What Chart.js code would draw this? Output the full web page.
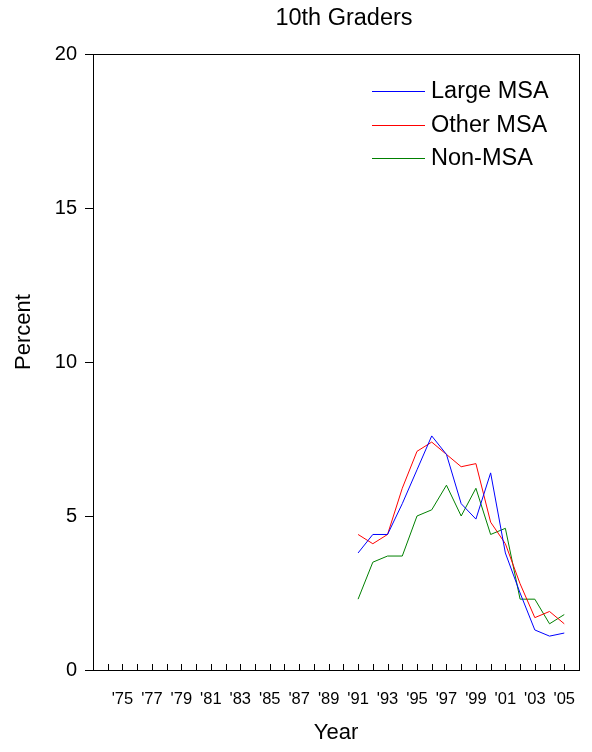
<!DOCTYPE html>
<html>
<head>
<meta charset="utf-8">
<title>10th Graders</title>
<script src="https://cdn.jsdelivr.net/npm/chart.js@4"></script>
<style>
  html, body { margin: 0; padding: 0; background: #fff; }
  #wrap { width: 592px; height: 752px; }
</style>
</head>
<body>
<div id="wrap"><canvas id="chart" width="592" height="752"></canvas></div>
<script>
// Survey years and percentages per group
const years = [1991, 1992, 1993, 1994, 1995, 1996, 1997, 1998, 1999, 2000, 2001, 2002, 2003, 2004, 2005];
const largeMsa = [3.8, 4.4, 4.4, 5.4, 6.5, 7.6, 7.0, 5.4, 4.9, 6.4, 3.8, 2.5, 1.3, 1.1, 1.2];
const otherMsa = [4.4, 4.1, 4.4, 5.9, 7.1, 7.4, 7.0, 6.6, 6.7, 4.8, 4.1, 2.8, 1.7, 1.9, 1.5];
const nonMsa = [2.3, 3.5, 3.7, 3.7, 5.0, 5.2, 6.0, 5.0, 5.9, 4.4, 4.6, 2.3, 2.3, 1.5, 1.8];

// Axis ticks
const tickYears = [1975, 1977, 1979, 1981, 1983, 1985, 1987, 1989, 1991, 1993, 1995, 1997, 1999, 2001, 2003, 2005];
const tickLabels = ["'75", "'77", "'79", "'81", "'83", "'85", "'87", "'89", "'91", "'93", "'95", "'97", "'99", "'01", "'03", "'05"];
const yTicks = [0, 5, 10, 15, 20];

const FONT = 'Arial, "Liberation Sans", sans-serif';

function toPoints(values) {
  return values.map((v, i) => ({ x: years[i], y: v }));
}

// Frame, inner year ticks, titles and legend
const decorations = {
  id: 'decorations',
  afterDraw(chart) {
    const ctx = chart.ctx;
    const area = chart.chartArea;
    const xs = chart.scales.x;
    ctx.save();
    ctx.strokeStyle = '#000';
    ctx.lineWidth = 1;
    ctx.strokeRect(Math.round(area.left) + 0.5, Math.round(area.top) + 0.5,
      Math.round(area.right - area.left), Math.round(area.bottom - area.top));

    // year ticks pointing up into the plot
    ctx.beginPath();
    for (let yr = 1974; yr <= 2005; yr++) {
      const px = Math.round(xs.getPixelForValue(yr)) + 0.5;
      ctx.moveTo(px, area.bottom);
      ctx.lineTo(px, area.bottom - 6);
    }
    ctx.stroke();

    ctx.fillStyle = '#000';
    ctx.textAlign = 'center';
    ctx.textBaseline = 'middle';
    ctx.font = '23.5px ' + FONT;
    ctx.fillText('10th Graders', (area.left + area.right) / 2 + 8, 19);

    ctx.font = '22px ' + FONT;
    ctx.fillText('Year', (area.left + area.right) / 2, 733);

    ctx.save();
    ctx.translate(24, 332);
    ctx.rotate(-Math.PI / 2);
    ctx.fillText('Percent', 0, 0);
    ctx.restore();

    // legend
    ctx.textAlign = 'left';
    ctx.font = '23.5px ' + FONT;
    chart.data.datasets.forEach((ds, i) => {
      const y = Math.round(91 + i * 33.5) + 0.5;
      ctx.strokeStyle = ds.borderColor;
      ctx.beginPath();
      ctx.moveTo(372, y);
      ctx.lineTo(425, y);
      ctx.stroke();
      ctx.fillText(ds.label, 431, y);
    });
    ctx.restore();
  }
};

new Chart(document.getElementById('chart'), {
  type: 'line',
  data: {
    datasets: [
      { label: 'Large MSA', data: toPoints(largeMsa), borderColor: '#0000ff', borderWidth: 1, pointRadius: 0, tension: 0, fill: false },
      { label: 'Other MSA', data: toPoints(otherMsa), borderColor: '#ff0000', borderWidth: 1, pointRadius: 0, tension: 0, fill: false },
      { label: 'Non-MSA', data: toPoints(nonMsa), borderColor: '#008000', borderWidth: 1, pointRadius: 0, tension: 0, fill: false }
    ]
  },
  options: {
    responsive: false,
    animation: false,
    events: [],
    layout: { padding: { left: 0, top: 54, right: 13, bottom: 0 } },
    plugins: {
      legend: { display: false },
      title: { display: false },
      tooltip: { enabled: false }
    },
    scales: {
      x: {
        type: 'linear',
        min: 1973,
        max: 2006,
        afterFit: scale => {
          scale.height = 82;
          scale.paddingLeft = 0;
          scale.paddingRight = 0;
        },
        grid: { display: true, drawOnChartArea: false, drawTicks: false, color: 'rgba(0,0,0,0)' },
        border: { display: false },
        ticks: {
          stepSize: 1,
          autoSkip: false,
          maxRotation: 0,
          padding: 20,
          color: '#000',
          font: { family: FONT, size: 16.5 },
          callback: v => {
            const idx = tickYears.indexOf(v);
            return idx >= 0 ? tickLabels[idx] : '';
          }
        }
      },
      y: {
        min: yTicks[0],
        max: yTicks[yTicks.length - 1],
        afterFit: scale => {
          scale.width = 93;
          scale.paddingTop = 0;
          scale.paddingBottom = 0;
        },
        afterBuildTicks: scale => { scale.ticks = yTicks.map(v => ({ value: v })); },
        grid: { drawOnChartArea: false, drawTicks: true, tickLength: 8, color: '#000' },
        border: { display: false },
        ticks: {
          padding: 8,
          color: '#000',
          font: { family: FONT, size: 20 }
        }
      }
    }
  },
  plugins: [decorations]
});
</script>
</body>
</html>
